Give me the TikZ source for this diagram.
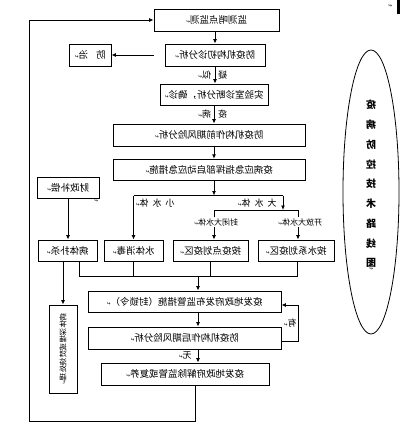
\documentclass[tikz,border=0pt]{standalone}
\usepackage{fontspec}
\newfontfamily\cjk{Noto Sans CJK SC}
\newfontfamily\djv{DejaVu Sans}
\usetikzlibrary{arrows.meta,shapes.geometric}
\newcommand\pmk{{\djv\fontsize{5}{5}\selectfont ↵}}
\newcommand\mt[1]{\reflectbox{#1\pmk}}
\begin{document}
\begin{tikzpicture}[x=1pt,y=-1pt,
  box/.style={draw, line width=0.9pt, inner sep=0pt, minimum height=22pt, font=\cjk\fontsize{9.5}{9.5}\selectfont},
  lab/.style={inner sep=0pt, font=\cjk\fontsize{9}{9}\selectfont},
  sublab/.style={inner sep=1pt, fill=white, font=\cjk\fontsize{8}{8}\selectfont},
  ln/.style={line width=0.9pt},
  arr/.style={line width=0.9pt, -{Latex[length=4.5pt,width=4pt]}}]
\path[use as bounding box] (0,0) rectangle (400,447);
% boxes
\node[box, minimum width=125pt] (top) at (216.5,20) {\mt{监测哨点监测}};
\node[box, minimum width=100pt] (b2) at (215,55) {\mt{防疫机构初诊分析}};
\node[box, minimum width=42pt] (fz) at (90,55) {\mt{防\hspace{8pt}治}};
\node[box, minimum width=108pt, minimum height=21pt] (b3) at (214,94.5) {\mt{实验室诊断分析，确诊}};
\node[box, minimum width=192pt] (b4) at (209,135) {\mt{防疫机构作前期风险分析}};
\node[box, minimum width=192pt, minimum height=21.5pt] (b5) at (209,170) {\mt{疫病应急指挥部启动应急措施}};
\node[box, minimum width=62pt, minimum height=21pt] (cz) at (68,187.5) {\mt{财政补偿}};
\node[box, minimum width=59pt, minimum height=21pt] (r1) at (67.5,250.5) {\mt{病体扑杀}};
\node[box, minimum width=59pt, minimum height=21pt] (r2) at (133.5,250.5) {\mt{水体消毒}};
\node[box, minimum width=75pt, minimum height=21pt] (r3) at (210.5,250.5) {\mt{按疫点划疫区}};
\node[box, minimum width=76pt, minimum height=21pt] (r4) at (296,250.5) {\mt{按水系划疫区}};
\node[box, minimum width=193pt, minimum height=21pt] (b6) at (184.5,301.5) {\mt{疫发地政府发布监管措施（封锁令）}};
\node[box, minimum width=193pt] (b7) at (184.5,338) {\mt{防疫机构作后期风险分析}};
\node[box, minimum width=168pt] (b8) at (185,374) {\mt{疫发地政府解除监管或复养}};
\node[box, minimum width=28pt, minimum height=88pt] (vb) at (63,349) {};
\node[rotate=90, inner sep=0pt, font=\cjk\fontsize{7.5}{7.5}\selectfont] (vbt) at (vb) {\mt{病体深埋或焚烧处理}};
% ellipse
\node[draw, ellipse, line width=0.8pt, minimum width=56pt, minimum height=284pt, inner sep=0pt] (ell) at (371,192) {};
\node[align=center, inner sep=0pt, font=\cjk\bfseries\fontsize{10}{19.75}\selectfont] (et) at (371,184)
  {\reflectbox{疫}\\\reflectbox{病}\\\reflectbox{防}\\\reflectbox{控}\\\reflectbox{技}\\\reflectbox{术}\\\reflectbox{路}\\\reflectbox{线}\\\reflectbox{图}};
\node[inner sep=0pt] (etm) at (371,269) {\reflectbox{\pmk}};
% marks
\node[inner sep=0pt] (tm) at (390,6) {\reflectbox{\pmk}};
\fill (397,0) rectangle (399.5,14);
\node[inner sep=0pt] (czm) at (96,201) {\reflectbox{\pmk}};
% labels
\node[lab] (ys) at (212.5,75) {\mt{疑\hspace{7pt}似}};
\node[lab] (yb) at (212.5,114) {\mt{疫\hspace{7pt}病}};
\node[lab] (xs) at (155,203) {\mt{小\hspace{4pt}水\hspace{4pt}体}};
\node[lab] (ds) at (257,203) {\mt{大\hspace{4pt}水\hspace{4pt}体}};
\node[lab] (you) at (290,323) {\mt{有}};
\node[lab] (wu) at (185,355) {\mt{无}};
% connectors
\draw[arr] (top.south -| b2.north) -- (b2.north);
\draw[arr] ([xshift=-11pt]b2.west) -- (fz.east);
\draw[arr] (b2.south) -- (b2.south |- b3.north);
\draw[arr] (b3.south) -- (b3.south |- b4.north);
\draw[arr] ([xshift=5pt]b4.south) -- ([xshift=5pt]b5.north);
\coordinate (j1) at (214,195.5);
\coordinate (jl) at (133.5,195.5);
\coordinate (jr) at (283,195.5);
\coordinate (j2) at (283,210);
\coordinate (k3) at (214,210);
\coordinate (k4) at (298,210);
\draw[arr] ([xshift=5pt]b5.south) -- (j1);
\draw[ln] (jl) -- (jr);
\draw[arr] (jl) -- (jl |- r2.north);
\draw[arr] (jr) -- (j2);
\draw[ln] (k3) -- (k4);
\draw[arr] (k3) -- (k3 |- r3.north);
\draw[arr] (k4) -- (k4 |- r4.north);
\node[sublab] (fb) at (216,222) {\mt{封闭大水体}};
\node[sublab] (kf) at (300,222) {\mt{开放大水体}};
\draw[arr] (cz.south) -- (cz.south |- r1.north);
% merge
\coordinate (m1) at (79,276);
\coordinate (m4) at (297,276);
\coordinate (m0) at (198,276);
\draw[ln] (m1 |- r1.south) -- (m1) -- (m4) -- (m4 |- r4.south);
\draw[ln] (r2.south) -- (r2.south |- m1);
\draw[ln] (r3.south) -- (r3.south |- m1);
\draw[arr] (m0) -- (m0 |- b6.north);
\draw[arr] ([xshift=-4.5pt]r1.south) -- ([xshift=-4.5pt]r1.south |- vb.north);
\draw[arr] ([xshift=13.5pt]b6.south) -- ([xshift=13.5pt]b7.north);
\draw[arr] ([xshift=13.5pt]b7.south) -- ([xshift=13pt]b8.north);
\draw[arr] ([yshift=-3pt]b7.east) -- ++(17,0) |- ([yshift=-3.5pt]b6.east);
% return loop
\coordinate (rb) at (195,421);
\coordinate (rl) at (29,421);
\draw[arr] (rb |- b8.south) -- (rb) -- (rl) |- (top.west);
\end{tikzpicture}
\end{document}
